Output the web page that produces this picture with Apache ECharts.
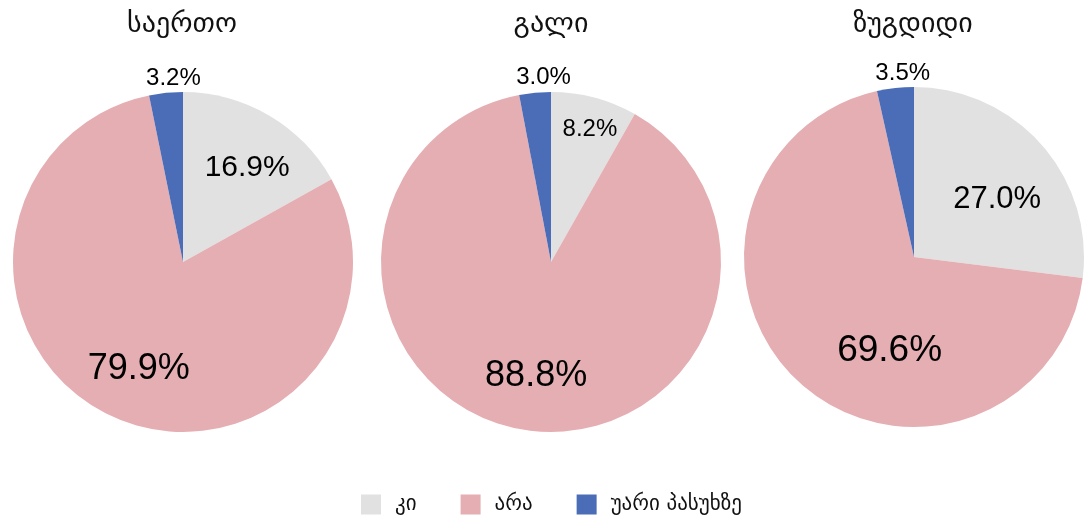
<!DOCTYPE html>
<html>
<head>
<meta charset="utf-8">
<script src="https://cdn.jsdelivr.net/npm/echarts@6/dist/echarts.min.js"></script>
<style>
  html, body { margin: 0; padding: 0; background: #fff; }
  #chart { width: 1089px; height: 515px; }
</style>
</head>
<body>
<div id="chart"></div>
<script>
var categories = ['კი', 'არა', 'უარი პასუხზე'];
var pieTitles = ['საერთო', 'გალი', 'ზუგდიდი'];
var totalValues = [16.9, 79.9, 3.2];
var galiValues = [8.2, 88.8, 3.0];
var zugdidiValues = [27.0, 69.6, 3.5];
var pieValues = [totalValues, galiValues, zugdidiValues];

var colors = ['#e1e1e1', '#e5aeb2', '#4b6cb6'];
var centers = [[183, 262], [551, 262], [914, 257]];
var titleX = [177, 546, 908];
// label layout per pie / slice: font size, distance from centre, sideways shift
var labelSizes = [[30, 36, 24], [24, 36, 24], [31, 37, 24]];
var labelRadius = [[106, 115, 182], [134, 113, 182], [84, 124, 182]];
var labelShiftX = [[9, 5, 9], [4, 4, 10], [18, 61, 9]];

var chart = echarts.init(document.getElementById('chart'));

var series = [];
var titles = [];
pieValues.forEach(function (vals, i) {
  series.push({
    type: 'pie',
    name: pieTitles[i],
    center: centers[i],
    radius: 170,
    startAngle: 90,
    clockwise: true,
    animation: false,
    silent: true,
    label: { show: false },
    labelLine: { show: false },
    data: vals.map(function (v, j) {
      return { name: categories[j], value: v };
    })
  });
  titles.push({
    text: pieTitles[i],
    left: titleX[i],
    top: 6,
    textAlign: 'center',
    textStyle: { fontFamily: 'DejaVu Sans', fontWeight: 'normal', fontSize: 28, color: '#111' }
  });
});

// transparent thin rings used only to place each value label
pieValues.forEach(function (vals, i) {
  vals.forEach(function (unused, k) {
    var r = labelRadius[i][k];
    var sx = labelShiftX[i][k] * 2;
    series.push({
      type: 'pie',
      name: pieTitles[i] + ' label ' + k,
      center: centers[i],
      radius: [r - 2, r + 2],
      startAngle: 90,
      clockwise: true,
      animation: false,
      silent: true,
      itemStyle: { color: 'rgba(0,0,0,0)' },
      labelLine: { show: false },
      label: {
        position: 'inside',
        color: '#000',
        fontFamily: 'Liberation Sans',
        formatter: function (p) { return p.value.toFixed(1) + '%'; }
      },
      data: vals.map(function (v, j) {
        return {
          name: categories[j],
          value: v,
          label: {
            show: j === k,
            fontSize: labelSizes[i][j],
            padding: [0, Math.max(-sx, 0), 0, Math.max(sx, 0)]
          }
        };
      })
    });
  });
});

chart.setOption({
  color: colors,
  animation: false,
  title: titles,
  legend: {
    data: categories,
    left: 356,
    top: 489,
    icon: 'rect',
    itemWidth: 20,
    itemHeight: 20,
    itemGap: 44,
    selectedMode: false,
    textStyle: { fontFamily: 'DejaVu Sans', fontSize: 21, color: '#111', padding: [0, 0, 0, 9] }
  },
  series: series
});
</script>
</body>
</html>
